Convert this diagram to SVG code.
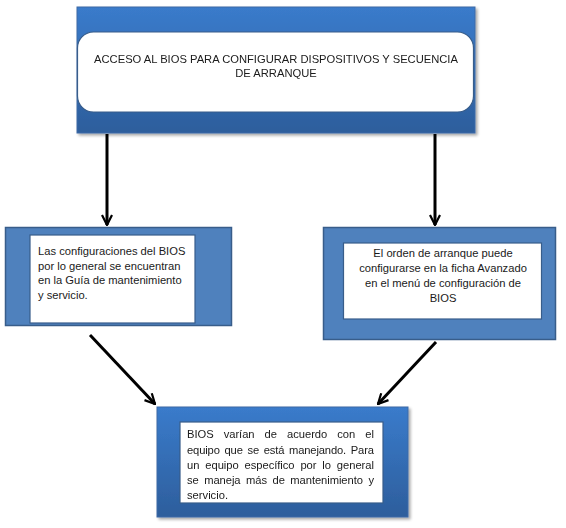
<svg xmlns="http://www.w3.org/2000/svg" width="566" height="528" viewBox="0 0 566 528">
<defs>
<linearGradient id="g" x1="0" y1="0" x2="0" y2="1">
<stop offset="0" stop-color="#3a7bcb"/>
<stop offset="1" stop-color="#2d5e9c"/>
</linearGradient>
<filter id="sh" x="-5%" y="-5%" width="112%" height="115%">
<feGaussianBlur in="SourceAlpha" stdDeviation="1.5"/>
<feOffset dx="2" dy="2"/>
<feComponentTransfer><feFuncA type="linear" slope="0.35"/></feComponentTransfer>
<feMerge><feMergeNode/><feMergeNode in="SourceGraphic"/></feMerge>
</filter>
<marker id="ah" viewBox="0 0 12 12" refX="11" refY="6" markerWidth="4" markerHeight="4" orient="auto" markerUnits="strokeWidth">
<path d="M1,1 L11,6 L1,11" fill="none" stroke="#000" stroke-width="2.2"/>
</marker>
</defs>
<style>
text{font-family:"Liberation Sans",Arial,sans-serif;font-size:11.2px;fill:#1a1a1a}
.grad{fill:url(#g);stroke:#3c6aa6;stroke-width:1}
.plain{fill:#4f81bd;stroke:#385d8a;stroke-width:1.5}
.inner{fill:#fff;stroke:#385d8a;stroke-width:1.2}
.conn line{stroke:#000;stroke-width:3;marker-end:url(#ah)}
</style>
<g id="n1" filter="url(#sh)">
<rect class="grad" x="77" y="7" width="398" height="126"/>
<rect class="inner" x="77.5" y="32" width="396" height="80" rx="16"/>
<text x="276" y="63" text-anchor="middle">ACCESO AL BIOS PARA CONFIGURAR DISPOSITIVOS Y SECUENCIA</text>
<text x="276" y="77" text-anchor="middle">DE ARRANQUE</text>
</g>
<g id="n2">
<rect class="plain" x="5.5" y="227.5" width="226" height="98"/>
<rect class="inner" x="30" y="235" width="165" height="88"/>
<text x="38" y="255">Las configuraciones del BIOS</text>
<text x="38" y="269.5">por lo general se encuentran</text>
<text x="38" y="284">en la Guía de mantenimiento</text>
<text x="38" y="298.5">y servicio.</text>
</g>
<g id="n3">
<rect class="plain" x="323.5" y="227.5" width="232" height="112"/>
<rect class="inner" x="343.5" y="243" width="198" height="76"/>
<text x="443" y="257" text-anchor="middle">El orden de arranque puede</text>
<text x="443" y="272" text-anchor="middle">configurarse en la ficha Avanzado</text>
<text x="443" y="287" text-anchor="middle">en el menú de configuración de</text>
<text x="443" y="302" text-anchor="middle">BIOS</text>
</g>
<g id="n4" filter="url(#sh)">
<rect class="grad" x="157" y="407" width="251" height="110"/>
<rect class="inner" x="180" y="422" width="203" height="81"/>
<text x="187" y="438" word-spacing="7" textLength="187" lengthAdjust="spacing">BIOS varían de acuerdo con el</text>
<text x="187" y="454" word-spacing="1.8" textLength="187" lengthAdjust="spacing">equipo que se está manejando. Para</text>
<text x="187" y="469" word-spacing="2.8" textLength="187" lengthAdjust="spacing">un equipo específico por lo general</text>
<text x="187" y="484" word-spacing="2.5" textLength="187" lengthAdjust="spacing">se maneja más de mantenimiento y</text>
<text x="187" y="499">servicio.</text>
</g>
<g id="connectors" class="conn">
<line x1="107" y1="134" x2="107" y2="225"/>
<line x1="435" y1="134" x2="435" y2="225"/>
<line x1="90" y1="335" x2="155" y2="404"/>
<line x1="436" y1="342" x2="378" y2="404"/>
</g>
</svg>
